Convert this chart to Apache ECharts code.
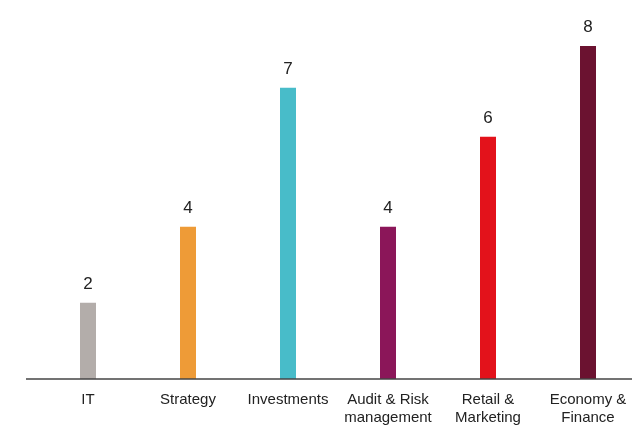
<!DOCTYPE html>
<html><head><meta charset="utf-8">
<script src="https://cdn.jsdelivr.net/npm/echarts@6/dist/echarts.min.js"></script>
<style>html,body{margin:0;padding:0;background:#fff}#c{width:632px;height:427px}</style>
</head><body><div id="c"></div>
<script>
const categories = ['IT', 'Strategy', 'Investments', 'Audit & Risk\nmanagement', 'Retail &\nMarketing', 'Economy &\nFinance'];
const values = [1.83, 3.66, 7.0, 3.66, 5.82, 8.0];
const colors = ['#B3ADAA', '#EE9B37', '#48BCC9', '#8B1659', '#E3121B', '#6B1230'];

const chart = echarts.init(document.getElementById('c'));
const font = '"Liberation Sans", Arial, sans-serif';
chart.setOption({
  animation: false,
  grid: { left: 88, top: 46, right: 44, bottom: 48, containLabel: false },
  xAxis: {
    type: 'category', data: categories, boundaryGap: false,
    axisLine: { show: false }, axisTick: { show: false },
    axisLabel: { color: '#222', fontSize: 15, fontFamily: font, lineHeight: 18, margin: 12, interval: 0 }
  },
  yAxis: { type: 'value', min: 0, max: 8, show: false, splitLine: { show: false } },
  series: [{
    type: 'bar', barWidth: 16,
    data: values.map((v, i) => ({ value: v, itemStyle: { color: colors[i] } })),
    label: { show: true, position: 'top', distance: 10, color: '#222', fontSize: 17, fontFamily: font,
      formatter: p => Math.round(p.value) }
  }]
});
const y0 = chart.convertToPixel({ yAxisIndex: 0 }, 0);
chart.setOption({ graphic: [{ type: 'line', shape: { x1: 26, y1: y0, x2: 632, y2: y0 }, style: { stroke: '#444', lineWidth: 1.5 }, z: 10 }] });
</script></body></html>
